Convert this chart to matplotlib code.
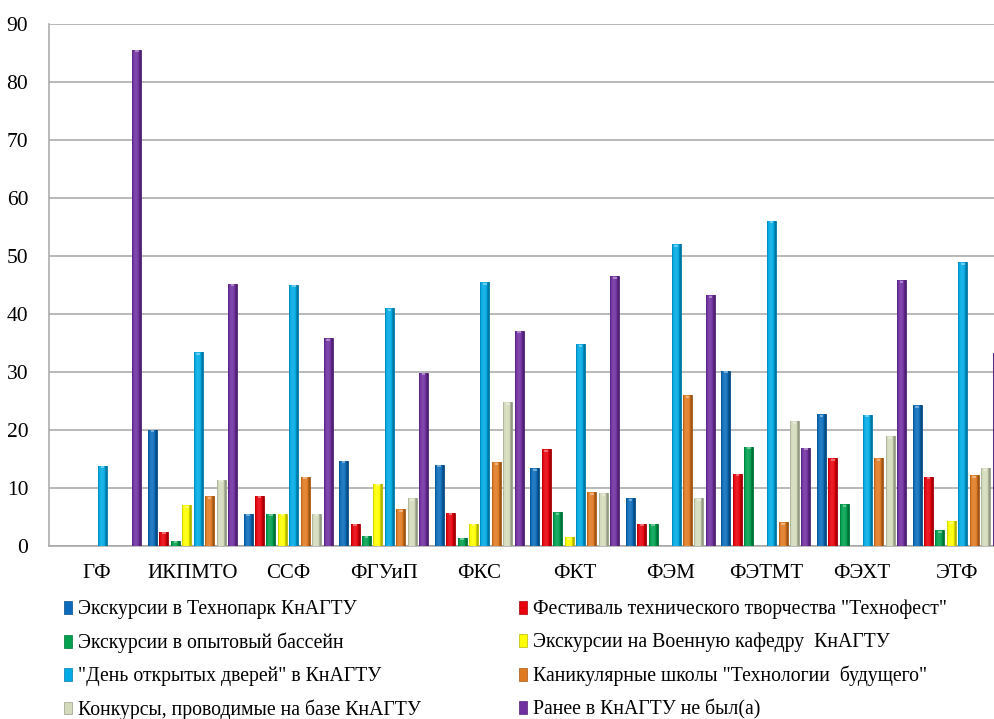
import numpy as np
import matplotlib
matplotlib.use("Agg")
import matplotlib.pyplot as plt
from matplotlib.patches import Patch
from matplotlib.colors import to_rgb

categories = ["ГФ", "ИКПМТО", "ССФ", "ФГУиП", "ФКС", "ФКТ", "ФЭМ", "ФЭТМТ", "ФЭХТ", "ЭТФ"]

series_names = [
    "Экскурсии в Технопарк КнАГТУ",
    "Фестиваль технического творчества \"Технофест\"",
    "Экскурсии в опытовый бассейн",
    "Экскурсии на Военную кафедру  КнАГТУ",
    "\"День открытых дверей\" в КнАГТУ",
    "Каникулярные школы \"Технологии  будущего\"",
    "Конкурсы, проводимые на базе КнАГТУ",
    "Ранее в КнАГТУ не был(а)",
]

technopark = [0, 20.0, 5.6, 14.7, 14.0, 13.4, 8.2, 30.2, 22.7, 24.3]
technofest = [0, 2.5, 8.7, 3.8, 5.7, 16.7, 3.8, 12.5, 15.1, 11.9]
basin = [0, 0.9, 5.6, 1.8, 1.4, 5.8, 3.8, 17.1, 7.2, 2.7]
military = [0, 7.0, 5.6, 10.7, 3.8, 1.5, 0, 0, 0, 4.3]
open_day = [13.8, 33.4, 45.0, 41.0, 45.5, 34.8, 52.0, 56.1, 22.6, 48.9]
schools = [0, 8.6, 11.9, 6.3, 14.4, 9.3, 26.0, 4.1, 15.1, 12.2]
contests = [0, 11.4, 5.6, 8.2, 24.8, 9.1, 8.2, 21.5, 18.9, 13.4]
never = [85.6, 45.2, 35.8, 29.9, 37.1, 46.5, 43.2, 16.9, 45.8, 33.3]

series_values = [technopark, technofest, basin, military, open_day, schools, contests, never]
colors = ["#0B6BBA", "#E8000B", "#00A04E", "#FFFF00", "#00AAE4", "#E07A22", "#D3DBBC", "#7030A0"]

yticks = [0, 10, 20, 30, 40, 50, 60, 70, 80, 90]

serif = ["Liberation Serif", "DejaVu Serif"]
plt.rcParams["font.family"] = serif

W, H = 995, 719
fig = plt.figure(figsize=(W / 100, H / 100), dpi=100)
left_px, right_px = 49.2, 1004.8
top_px, bottom_px = 24, 546
ax = fig.add_axes([left_px / W, (H - bottom_px) / H, (right_px - left_px) / W, (bottom_px - top_px) / H])

x = np.arange(len(categories))
step = 0.1196
bw = 0.094


def shade(c, f):
    r, g, b = to_rgb(c)
    if f >= 1:
        return tuple(v + (1 - v) * (f - 1) for v in (r, g, b))
    return tuple(v * f for v in (r, g, b))


for j, (vals, col) in enumerate(zip(series_values, colors)):
    pos = x + (j - 3.5) * step
    bars = ax.bar(pos, vals, width=bw, color=col, edgecolor=shade(col, 0.72), linewidth=0.6, zorder=3)
    n = 32
    t = np.linspace(0, 1, n)
    prof = 0.70 + 0.5 * np.sin(np.pi * np.clip(t * 1.15, 0, 1)) ** 0.6
    grad = np.array([[shade(col, p) if p <= 1 else shade(col, 1 + (p - 1) * 0.6) for p in prof]])
    grad = np.clip(grad, 0, 1)
    for b in bars:
        h = b.get_height()
        if h <= 0:
            continue
        x0 = b.get_x()
        im = ax.imshow(grad, extent=(x0, x0 + bw, 0, h), aspect="auto", zorder=3.5,
                       interpolation="bilinear", origin="lower")
        im.set_clip_path(b)
        ax.plot([x0 + bw * 0.3, x0 + bw * 0.7], [h - 0.25, h - 0.25], color=shade(col, 1.5),
                lw=1.2, zorder=4, solid_capstyle="butt")

ax.set_xlim(-0.5, len(categories) - 0.5)
ax.set_ylim(0, 90)
ax.set_yticks(yticks)
ax.set_yticklabels([str(v) for v in yticks], fontsize=15.5)
ax.set_xticks(x)
ax.set_xticklabels(categories, fontsize=15)
ax.tick_params(axis="both", length=0)
ax.tick_params(axis="y", pad=15)
ax.tick_params(axis="x", pad=13)
ax.yaxis.grid(True, color="#A6A6A6", lw=1.1, zorder=0)
ax.set_axisbelow(True)
for s in ["top", "right"]:
    ax.spines[s].set_visible(False)
for s in ["left", "bottom"]:
    ax.spines[s].set_color("#A6A6A6")
    ax.spines[s].set_linewidth(1.1)

order = [0, 2, 4, 6, 1, 3, 5, 7]
handles = [Patch(facecolor=colors[i], edgecolor=shade(colors[i], 0.72), lw=0.5) for i in order]
labels = [series_names[i] for i in order]
fig.legend(handles, labels, ncol=2, loc="upper left", bbox_to_anchor=(56 / W, 1 - 592 / H),
           frameon=False, fontsize=14.2, handlelength=0.4, handleheight=0.6, handletextpad=0.3,
           columnspacing=5.0, labelspacing=0.68, borderaxespad=0)

fig.savefig("out.png", dpi=100)
